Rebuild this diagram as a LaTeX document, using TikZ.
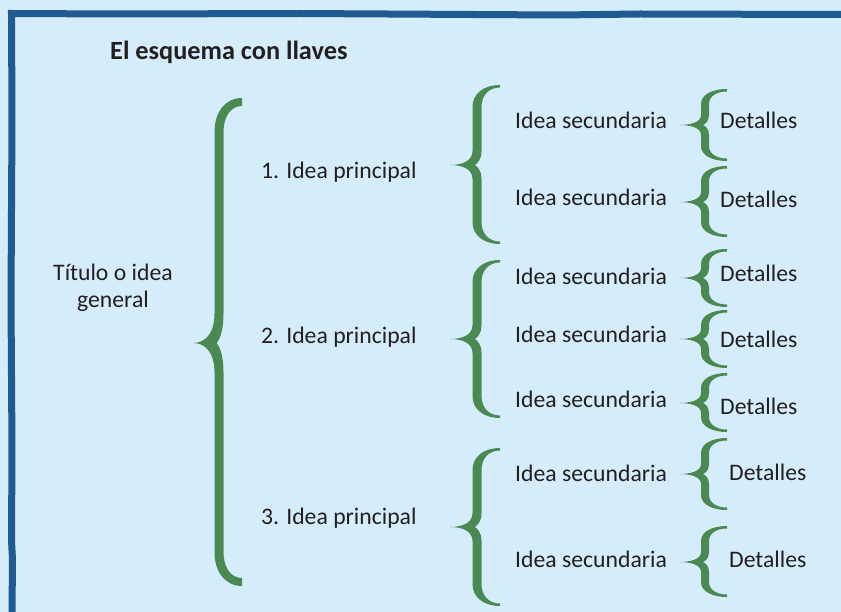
\documentclass[tikz,border=0pt]{standalone}
\usepackage{fontspec}
\setmainfont{Carlito}
\definecolor{bgcol}{HTML}{D5EDFA}
\definecolor{bordercol}{HTML}{1F5A91}
\definecolor{llavecol}{HTML}{4A8A52}
\definecolor{textcol}{HTML}{231F20}
\def\lh{4}\def\ld{12}\def\lr{18}\def\le{2.5}\def\lk{0.6}
\newcommand\llave[6]{% xs yt yb ym xt xe
\fill[llavecol]
 (#6,#2) .. controls ({#6-\lk*(#6-#1+\lh)},#2) and ({#1-\lh},{#2+(1-\lk)*\lr}) .. ({#1-\lh},{#2+\lr})
 -- ({#1-\lh},{#4-\ld})
 .. controls ({#1-\lh},{#4-0.25*\ld}) and ({(#1-\lh+#5)/2},#4) .. (#5,#4)
 .. controls ({(#1-\lh+#5)/2},#4) and ({#1-\lh},{#4+0.25*\ld}) .. ({#1-\lh},{#4+\ld})
 -- ({#1-\lh},{#3-\lr})
 .. controls ({#1-\lh},{#3-(1-\lk)*\lr}) and ({#6-\lk*(#6-#1+\lh)},#3) .. (#6,#3)
 -- (#6,{#3-\le})
 .. controls ({#6-\lk*(#6-#1-\lh)},{#3-\le}) and ({#1+\lh},{#3-\le-(1-\lk)*(\lr-\le)}) .. ({#1+\lh},{#3-\lr})
 -- ({#1+\lh},{#4+\ld})
 .. controls ({#1+\lh},{#4+0.35*\ld}) and ({#1},{#4+0.1*\ld}) .. ({#1-0.5*\lh},#4)
 .. controls ({#1},{#4-0.1*\ld}) and ({#1+\lh},{#4-0.35*\ld}) .. ({#1+\lh},{#4-\ld})
 -- ({#1+\lh},{#2+\lr})
 .. controls ({#1+\lh},{#2+\le+(1-\lk)*(\lr-\le)}) and ({#6-\lk*(#6-#1-\lh)},{#2+\le}) .. (#6,{#2+\le})
 -- cycle;}
\tikzset{
 txt/.style={font=\fontsize{23.7}{27}\selectfont, text=textcol, inner sep=0pt, anchor=base west},
 titulo/.style={font=\fontsize{26.3}{30}\selectfont\bfseries, text=textcol, inner sep=0pt, anchor=base west},
 borde/.style={draw=bordercol, line width=7pt, line join=miter}
}
\begin{document}
\begin{tikzpicture}[x=1pt,y=-1pt]
\fill[bgcol] (0,0) rectangle (841,612);
\useasboundingbox (0,0) rectangle (841,612);
% border (top and left only)
\draw[borde] (841,14.5) -- (640,14) -- (560,15) -- (300,13.5) -- (120,14) -- (11.5,13.5) -- (12,120) -- (11,300) -- (12,450) -- (11.5,540) -- (12.5,560) -- (12,612);
% title
\node[titulo] (title) at (110,60) {El esquema con llaves};
% general
\node[font=\fontsize{23.7}{27}\selectfont, text=textcol, inner sep=0pt, align=center] (gen) at (113,287.5) {Título o idea\\general};
% big brace
\def\lh{4.5}\def\ld{30}\def\lr{34}\def\le{8}
\llave{219}{98}{586}{343}{193}{242}
% principal ideas
\node[txt] (p1) at (261,179) {1. Idea principal};
\node[txt] (p2) at (261,344) {2. Idea principal};
\node[txt] (p3) at (261,524) {3. Idea principal};
% level 2 braces
\def\lh{4.5}\def\ld{14}\def\lr{22}\def\le{2.5}
\llave{477}{85}{244}{165}{450}{500}
\llave{477}{260}{418}{339}{450}{500}
\llave{477}{448}{606}{527}{450}{500}
% secondary ideas
\node[txt] (s1) at (515,129) {Idea secundaria};
\node[txt] (s2) at (515,206) {Idea secundaria};
\node[txt] (s3) at (515,285) {Idea secundaria};
\node[txt] (s4) at (515,343) {Idea secundaria};
\node[txt] (s5) at (515,407) {Idea secundaria};
\node[txt] (s6) at (515,481) {Idea secundaria};
\node[txt] (s7) at (515,567) {Idea secundaria};
% level 3 braces
\def\lh{4}\def\ld{10}\def\lr{15}\def\le{2.5}
\llave{705}{89}{161}{125}{679}{727}
\llave{705}{166}{237}{202}{679}{727}
\llave{705}{249}{307}{278}{679}{727}
\llave{705}{310}{368}{339}{679}{727}
\llave{705}{373}{432}{403}{679}{727}
\llave{705}{438}{510}{474}{679}{727}
\llave{705}{526}{597}{562}{679}{727}
% details
\node[txt] (d1) at (720,129) {Detalles};
\node[txt] (d2) at (720,208) {Detalles};
\node[txt] (d3) at (720,282) {Detalles};
\node[txt] (d4) at (720,348) {Detalles};
\node[txt] (d5) at (720,414) {Detalles};
\node[txt] (d6) at (729,480) {Detalles};
\node[txt] (d7) at (729,567) {Detalles};
\end{tikzpicture}
\end{document}
